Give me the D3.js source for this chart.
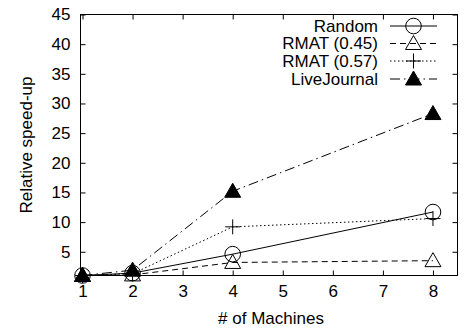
<!DOCTYPE html>
<html><head><meta charset="utf-8">
<script src="https://cdn.jsdelivr.net/npm/d3@7"></script>
<style>
html,body{margin:0;padding:0;background:#fff;}
svg text{font-family:"Liberation Sans",Arial,Helvetica,sans-serif;fill:#000;}
</style></head>
<body>
<svg id="c" width="473" height="329"></svg>
<script>
const machines = [1, 2, 4, 8];
const seriesNames = ["Random", "RMAT (0.45)", "RMAT (0.57)", "LiveJournal"];
const randomVals = [1, 1.4, 4.6, 11.7];
const rmat45Vals = [1, 1.1, 3.2, 3.5];
const rmat57Vals = [1, 1.3, 9.2, 10.6];
const liveJournalVals = [1, 1.9, 15.2, 28.3];
const xTicks = [1, 2, 3, 4, 5, 6, 7, 8];
const yTicks = [5, 10, 15, 20, 25, 30, 35, 40, 45];
const xLabel = "# of Machines";
const yLabel = "Relative speed-up";

const series = [
  {name: seriesNames[0], vals: randomVals, dash: null, marker: "circle"},
  {name: seriesNames[1], vals: rmat45Vals, dash: "6,4", marker: "tri"},
  {name: seriesNames[2], vals: rmat57Vals, dash: "1.5,2.5", marker: "plus"},
  {name: seriesNames[3], vals: liveJournalVals, dash: "10,4,1.5,4", marker: "ftri"}
];

const svg = d3.select("#c");
const L = 80.5, R = 457.5, T = 14.5, B = 275.5;
const x = d3.scaleLinear().domain([0.96, 8.49]).range([L, R]);
const y = d3.scaleLinear().domain([1, 45]).range([B, T]);
const FS = 17, TL = 5;

// ticks (inward, mirrored)
const g = svg.append("g");
g.append("g").attr("transform", `translate(0,${B})`)
  .call(d3.axisBottom(x).tickValues(xTicks).tickSizeInner(-TL).tickSizeOuter(0).tickPadding(9).tickFormat(d3.format("d")))
  .call(a => { a.select(".domain").remove(); a.selectAll("text").attr("font-size", FS).attr("font-family", null); a.selectAll("line").attr("stroke", "#000"); });
g.append("g").attr("transform", `translate(0,${T})`)
  .call(d3.axisTop(x).tickValues(xTicks).tickSizeInner(-TL).tickSizeOuter(0).tickFormat(""))
  .call(a => { a.select(".domain").remove(); a.selectAll("line").attr("stroke", "#000"); });
g.append("g").attr("transform", `translate(${L},0)`)
  .call(d3.axisLeft(y).tickValues(yTicks).tickSizeInner(-TL).tickSizeOuter(0).tickPadding(10).tickFormat(d3.format("d")))
  .call(a => { a.select(".domain").remove(); a.selectAll("text").attr("font-size", FS).attr("font-family", null); a.selectAll("line").attr("stroke", "#000"); });
g.append("g").attr("transform", `translate(${R},0)`)
  .call(d3.axisRight(y).tickValues(yTicks).tickSizeInner(-TL).tickSizeOuter(0).tickFormat(""))
  .call(a => { a.select(".domain").remove(); a.selectAll("line").attr("stroke", "#000"); });

svg.append("rect").attr("x", L).attr("y", T).attr("width", R - L).attr("height", B - T)
  .attr("fill", "none").attr("stroke", "#000").attr("stroke-width", 1);

svg.append("text").attr("x", (L + R) / 2 + 2).attr("y", 324).attr("text-anchor", "middle")
  .attr("font-size", FS).text(xLabel);
svg.append("text").attr("transform", `translate(32,${(T + B) / 2}) rotate(-90)`)
  .attr("text-anchor", "middle").attr("font-size", FS).text(yLabel);

function drawMarker(sel, type, cx, cy) {
  if (type === "circle") {
    sel.append("circle").attr("cx", cx).attr("cy", cy).attr("r", 7.8)
      .attr("fill", "none").attr("stroke", "#000").attr("stroke-width", 1);
  } else if (type === "tri" || type === "ftri") {
    const s = 8;
    const pts = [[cx, cy - s], [cx - s, cy + s * 0.75], [cx + s, cy + s * 0.75]];
    sel.append("path").attr("d", "M" + pts.map(p => p.join(",")).join("L") + "Z")
      .attr("fill", type === "ftri" ? "#000" : "none").attr("stroke", "#000").attr("stroke-width", 1);
  } else if (type === "plus") {
    const s = 7.5;
    sel.append("path").attr("d", `M${cx - s},${cy}H${cx + s}M${cx},${cy - s}V${cy + s}`)
      .attr("fill", "none").attr("stroke", "#000").attr("stroke-width", 1);
  }
}

const line = d3.line().x((d, i) => x(machines[i])).y(d => y(d));
series.forEach(s => {
  const gs = svg.append("g");
  gs.append("path").datum(s.vals).attr("d", line).attr("fill", "none")
    .attr("stroke", "#000").attr("stroke-width", 1)
    .attr("stroke-dasharray", s.dash);
  s.vals.forEach((v, i) => drawMarker(gs, s.marker, x(machines[i]), y(v)));
});

// legend
const legY = [26, 43.5, 61, 79];
series.forEach((s, i) => {
  const gl = svg.append("g");
  gl.append("text").attr("x", 378).attr("y", legY[i]).attr("dy", "0.35em")
    .attr("text-anchor", "end").attr("font-size", FS).text(s.name);
  gl.append("line").attr("x1", 390).attr("x2", 437).attr("y1", legY[i]).attr("y2", legY[i])
    .attr("stroke", "#000").attr("stroke-width", 1).attr("stroke-dasharray", s.dash);
  drawMarker(gl, s.marker, 413.5, legY[i]);
});
</script>
</body></html>
